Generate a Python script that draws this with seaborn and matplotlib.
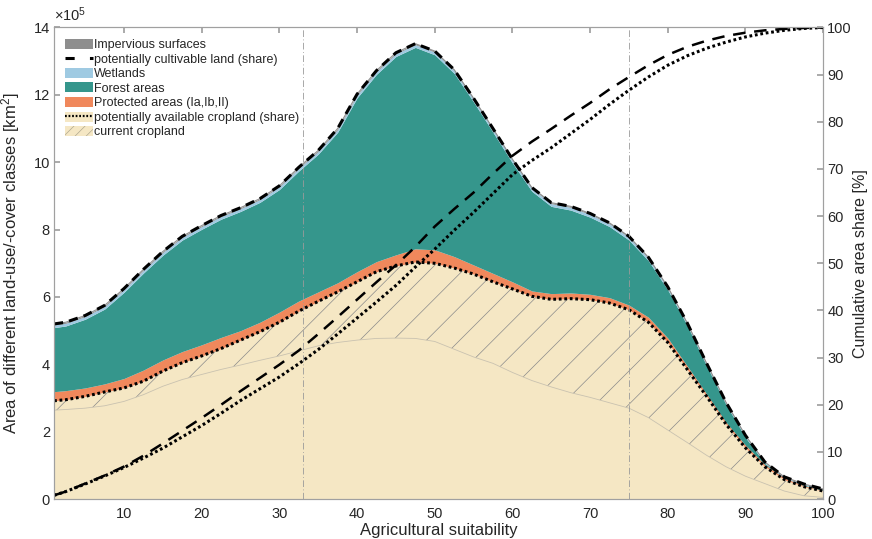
import numpy as np
import matplotlib
matplotlib.use("Agg")
import matplotlib.pyplot as plt
import seaborn as sns
from matplotlib.patches import Patch
from matplotlib.lines import Line2D

# agricultural suitability classes (x)
suitability = [1, 2.5, 5, 7.5, 10, 12.5, 15, 17.5, 20, 22.5, 25, 27.5, 30, 32.5, 35,
               37.5, 40, 42.5, 45, 47.5, 50, 52.5, 55, 57.5, 60, 62.5, 65, 67.5, 70,
               72.5, 75, 77.5, 80, 82.5, 85, 87.5, 90, 92.5, 95, 97.5, 100]

# areas in 1e5 km2 (upper boundaries)
total_area = [5.20, 5.25, 5.45, 5.75, 6.25, 6.82, 7.35, 7.80, 8.12, 8.42, 8.65, 8.92, 9.30,
              9.85, 10.35, 11.00, 12.02, 12.72, 13.25, 13.52, 13.30, 12.75, 11.90, 11.00,
              10.09, 9.25, 8.80, 8.69, 8.48, 8.20, 7.80, 7.18, 6.30, 5.23, 4.03, 2.87,
              1.89, 1.10, 0.66, 0.45, 0.30]
impervious = [0.03, 0.03, 0.03, 0.03, 0.03, 0.03, 0.03, 0.03, 0.03, 0.03, 0.03, 0.03, 0.03,
              0.03, 0.03, 0.03, 0.03, 0.03, 0.03, 0.03, 0.03, 0.03, 0.03, 0.03, 0.03, 0.03,
              0.03, 0.03, 0.03, 0.03, 0.03, 0.03, 0.03, 0.02, 0.02, 0.02, 0.02, 0.01, 0.01,
              0.01, 0.01]
wetlands = [0.08, 0.08, 0.08, 0.08, 0.08, 0.08, 0.08, 0.08, 0.08, 0.08, 0.08, 0.08, 0.08,
            0.08, 0.08, 0.08, 0.08, 0.08, 0.08, 0.08, 0.08, 0.08, 0.08, 0.08, 0.08, 0.08,
            0.08, 0.08, 0.08, 0.08, 0.08, 0.07, 0.06, 0.05, 0.05, 0.04, 0.04, 0.03, 0.02,
            0.02, 0.01]
protected_top = [3.19, 3.22, 3.30, 3.42, 3.58, 3.83, 4.13, 4.38, 4.58, 4.80, 5.00, 5.25, 5.55,
                 5.88, 6.15, 6.42, 6.75, 7.05, 7.25, 7.43, 7.40, 7.20, 6.95, 6.70, 6.45, 6.18,
                 6.10, 6.12, 6.08, 5.98, 5.76, 5.40, 4.78, 3.95, 3.12, 2.28, 1.60, 1.02, 0.63,
                 0.40, 0.26]
avail_cropland = [2.92, 2.95, 3.05, 3.18, 3.30, 3.50, 3.80, 4.05, 4.25, 4.47, 4.72, 4.97, 5.25,
                  5.58, 5.87, 6.15, 6.45, 6.75, 6.92, 7.04, 7.00, 6.86, 6.68, 6.45, 6.24, 6.02,
                  5.93, 5.95, 5.92, 5.82, 5.62, 5.25, 4.65, 3.85, 3.05, 2.22, 1.52, 0.96, 0.58,
                  0.37, 0.24]
current_cropland = [2.64, 2.66, 2.70, 2.77, 2.90, 3.10, 3.35, 3.55, 3.70, 3.85, 3.98, 4.12, 4.25,
                    4.40, 4.55, 4.65, 4.72, 4.77, 4.78, 4.77, 4.68, 4.45, 4.22, 4.03, 3.76, 3.52,
                    3.33, 3.16, 3.02, 2.86, 2.70, 2.42, 2.05, 1.68, 1.30, 0.96, 0.68, 0.46, 0.24,
                    0.10, 0.05]

# cumulative shares in %
share_cultivable = [0.8, 1.6, 3.3, 5.0, 6.9, 9.2, 11.8, 14.5, 17.2, 20.0, 22.9, 25.7, 28.5,
                    31.5, 35.0, 38.6, 42.3, 46.0, 49.6, 53.5, 57.8, 61.5, 65.0, 69.0, 72.8,
                    75.8, 78.5, 81.3, 84.0, 86.9, 89.5, 92.0, 94.2, 95.9, 97.2, 98.2, 98.9,
                    99.4, 99.7, 99.9, 100.0]
share_available = [0.8, 1.6, 3.2, 4.9, 6.7, 8.7, 10.8, 13.2, 15.6, 18.2, 20.9, 23.4, 25.9,
                   28.7, 31.7, 35.0, 38.4, 41.8, 45.3, 49.2, 53.0, 57.0, 60.8, 64.8, 68.8,
                   71.8, 74.5, 77.5, 80.5, 83.7, 86.7, 89.5, 92.0, 94.0, 95.6, 96.9, 98.0,
                   98.8, 99.4, 99.8, 100.0]

marker_lines = [33, 75]

c_tan = "#f5e7c4"
c_orange = "#f0885c"
c_teal = "#35968c"
c_wet = "#9fcae2"
c_imp = "#8e8e8e"
c_axis = "#a0a0a0"
c_text = "#262626"

sns.set_theme(style="white")
plt.rcParams["font.family"] = ["Liberation Sans", "DejaVu Sans"]
plt.rcParams["mathtext.fontset"] = "custom"
plt.rcParams["mathtext.rm"] = "Liberation Sans"
plt.rcParams["mathtext.it"] = "Liberation Sans:italic"
plt.rcParams["hatch.linewidth"] = 0.5
plt.rcParams["hatch.color"] = "#8a8a8a"

x = np.array(suitability)
total = np.array(total_area)
wet_top = total - np.array(impervious)
forest_top = wet_top - np.array(wetlands)

fig = plt.figure(figsize=(8.72, 5.39), dpi=100)
ax = fig.add_axes([0.062, 0.074, 0.882, 0.875])
ax2 = ax.twinx()

# stacked areas
ax.fill_between(x, 0, avail_cropland, color=c_tan, lw=0)
ax.fill_between(x, current_cropland, avail_cropland, facecolor="none",
                edgecolor="#8a8a8a", hatch="/", lw=0)
ax.plot(x, current_cropland, color="#c9c2b0", lw=0.6)
ax.fill_between(x, avail_cropland, protected_top, color=c_orange, lw=0)
ax.fill_between(x, protected_top, forest_top, color=c_teal, lw=0)
ax.fill_between(x, forest_top, wet_top, color=c_wet, lw=0)
ax.fill_between(x, wet_top, total, color=c_imp, lw=0)
ax.plot(x, total, color=c_imp, lw=0.8)

sns.lineplot(x=x, y=total, ax=ax, color="black", lw=2.2, linestyle=(0, (3, 2)))
sns.lineplot(x=x, y=avail_cropland, ax=ax, color="black", lw=2.2, linestyle=(0, (0.9, 0.9)))

for xv in marker_lines:
    ax.axvline(xv, color="#9a9a9a", lw=0.6, linestyle=(0, (8, 3, 1, 3)), zorder=3)

# cumulative shares
sns.lineplot(x=x, y=share_cultivable, ax=ax2, color="black", lw=1.8, linestyle=(0, (5, 3.5)))
sns.lineplot(x=x, y=share_available, ax=ax2, color="black", lw=2.2, linestyle=(0, (0.9, 0.9)))

ax.set_xlim(1, 100)
ax.set_ylim(0, 14)
ax2.set_ylim(0, 100)
ax.set_xticks(np.arange(10, 101, 10))
ax.set_yticks(np.arange(0, 15, 2))
ax2.set_yticks(np.arange(0, 101, 10))

for a in (ax, ax2):
    for s in a.spines.values():
        s.set_color(c_axis)
        s.set_linewidth(0.8)
ax.tick_params(axis="x", direction="in", length=4, color=c_axis, labelsize=10.5,
               labelcolor=c_text, top=True, pad=6)
ax.tick_params(axis="y", direction="in", length=4, color=c_axis, labelsize=10.5,
               labelcolor=c_text, left=True, right=False, pad=3)
ax2.tick_params(axis="y", direction="in", length=4, color=c_axis, labelsize=10.5,
                labelcolor=c_text, right=True, pad=3)

ax.set_xlabel("Agricultural suitability", fontsize=12, color=c_text, labelpad=1)
ax.set_ylabel("Area of different land-use/-cover classes [km$^2$]", fontsize=12,
              color=c_text, labelpad=8)
ax2.set_ylabel("Cumulative area share [%]", fontsize=11.5, color=c_text, labelpad=1)
ax.text(0.0, 1.008, r"$\times10^5$", transform=ax.transAxes, fontsize=10.5,
        color=c_text, ha="left", va="bottom")

handles = [
    Patch(facecolor=c_imp, edgecolor="none"),
    Line2D([], [], color="black", lw=2.2, linestyle=(0, (3, 5))),
    Patch(facecolor=c_wet, edgecolor="none"),
    Patch(facecolor=c_teal, edgecolor="none"),
    Patch(facecolor=c_orange, edgecolor="none"),
    (Patch(facecolor=c_tan, edgecolor="none"),
     Line2D([], [], color="black", lw=1.6, linestyle=(0, (0.8, 0.8)))),
    Patch(facecolor=c_tan, edgecolor="#b0a890", hatch="///", lw=0),
]
labels = ["Impervious surfaces", "potentially cultivable land (share)", "Wetlands",
          "Forest areas", "Protected areas (Ia,Ib,II)",
          "potentially available cropland (share)", "current cropland"]
leg = ax2.legend(handles, labels, loc="upper left", fontsize=9, frameon=False,
                 handlelength=2.2, handleheight=0.85, handletextpad=0.1,
                 labelspacing=0.18, borderpad=0.3, borderaxespad=0.6)
for t in leg.get_texts():
    t.set_color(c_text)

fig.savefig("out.png", dpi=100)
